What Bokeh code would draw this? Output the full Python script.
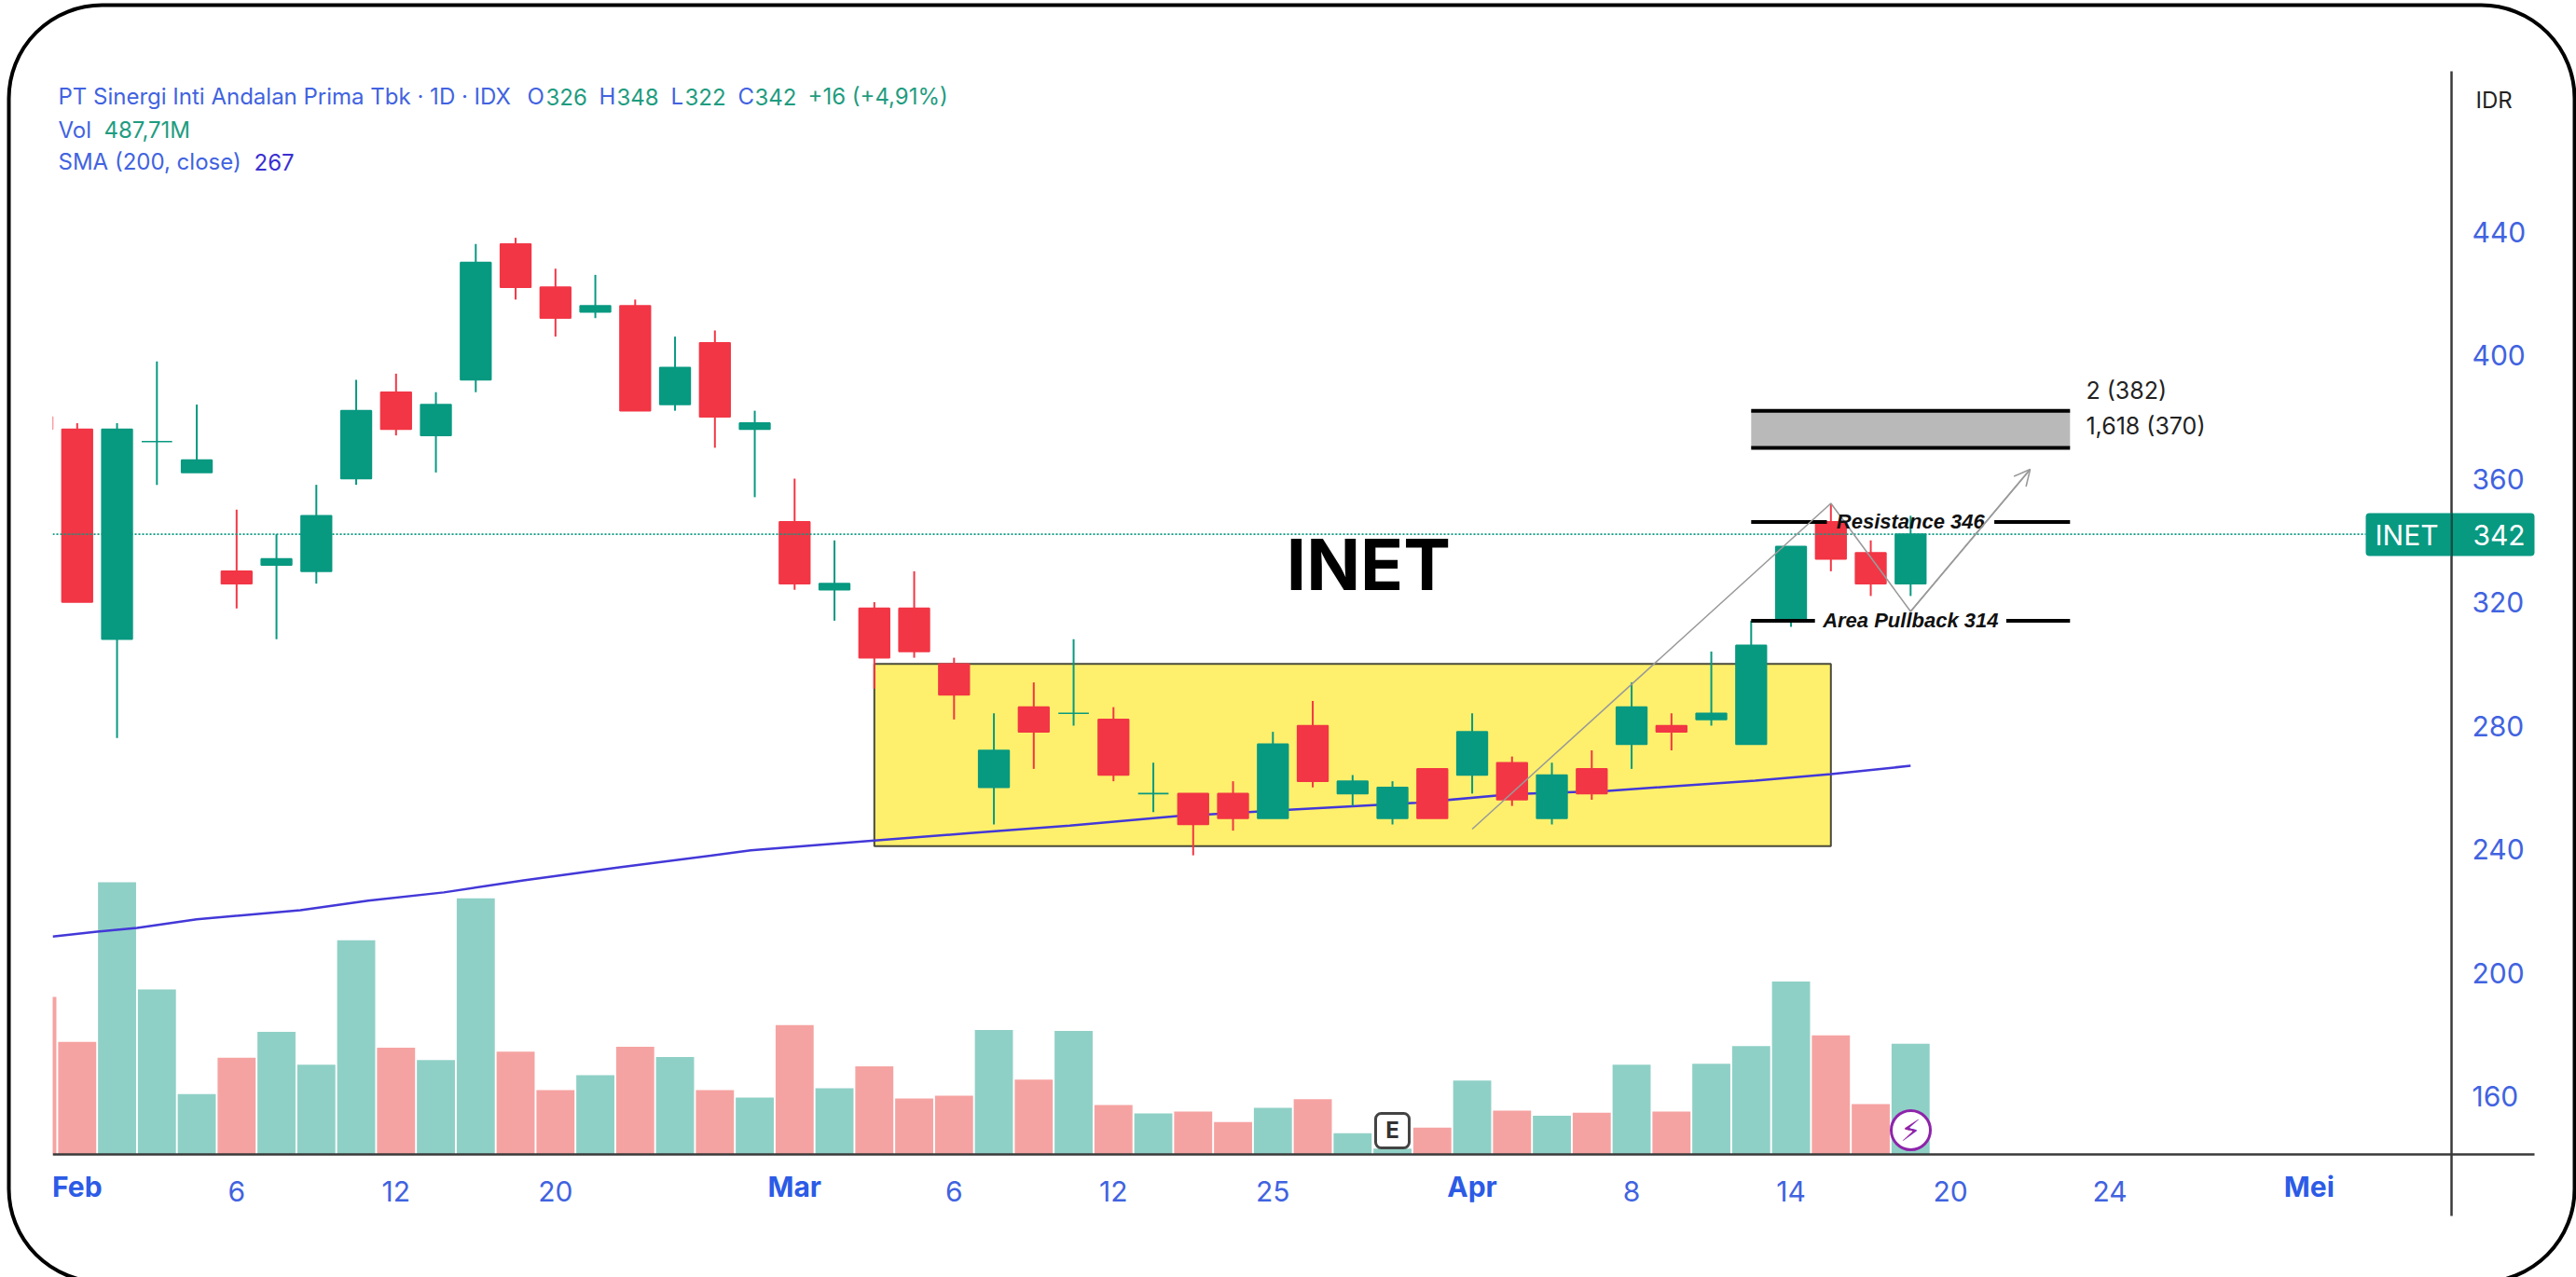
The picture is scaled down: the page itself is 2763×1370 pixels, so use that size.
from bokeh.plotting import figure
from bokeh.models import (Range1d, FixedTicker, Label, BoxAnnotation, Arrow, OpenHead, ColumnDataSource)
from bokeh.core.properties import value
from bokeh.embed import file_html
from bokeh.resources import INLINE

# ---------- data ----------
index = list(range(-1, 47))
opens = [380, 376, 308, 372, 362, 330, 332, 330, 360, 388, 374, 392, 436, 422, 414, 416, 384, 404, 376, 346, 324,
         318, 318, 300, 260, 286, 284, 282, 258, 258, 258, 250, 280, 258, 250, 266, 264, 268, 250, 266, 274, 280, 282, 274,
         314, 346, 336, 326]
highs = [382, 378, 378, 398, 384, 350, 342, 358, 392, 394, 388, 436, 438, 428, 426, 418, 406, 408, 382, 360, 340,
         320, 330, 302, 284, 294, 308, 286, 268, 258, 262, 278, 288, 264, 262, 266, 284, 270, 268, 272, 294, 284, 304, 314,
         338, 352, 340, 348]
lows = [376, 320, 276, 358, 362, 318, 308, 326, 358, 374, 362, 388, 418, 406, 412, 382, 382, 370, 354, 324, 314,
        292, 302, 282, 248, 266, 280, 262, 252, 238, 246, 250, 260, 254, 248, 250, 258, 254, 248, 256, 266, 272, 280, 274,
        312, 330, 322, 322]
closes = [376, 320, 376, 372, 366, 326, 334, 348, 382, 376, 384, 430, 422, 412, 416, 382, 396, 380, 378, 326, 326,
          302, 304, 290, 272, 278, 284, 264, 258, 248, 250, 274, 262, 262, 260, 250, 278, 256, 264, 258, 286, 278, 284, 306,
          338, 334, 326, 342]
volumes = [695, 496, 1200, 727, 266, 426, 540, 396, 944, 471, 416, 1129, 453, 284, 349, 475, 429, 284, 251, 570, 292,
           388, 247, 259, 549, 330, 545, 218, 181, 189, 143, 206, 244, 93, 26, 118, 326, 193, 171, 184, 396, 189, 400, 478,
           762, 525, 222, 488]
sma_index = [-0.615, 0.5, 1.5, 3, 5.6, 7.3, 9.2, 11.2, 13.6, 16.9, 19.1, 22.4, 24.9, 27.6, 30.5, 33.6, 36, 38.4, 42.1, 44, 46]
sma_value = [211.7, 213.3, 214.5, 217.3, 220.2, 223.3, 226, 229.9, 234.1, 239.6, 241.9, 245.2, 247.6, 250.7, 252.8,
             255, 257.8, 258.9, 262.2, 264.3, 267]
path_index = [35, 44, 46, 49]
path_price = [246.5, 352, 317, 363]
x_ticks = [0, 4, 8, 12, 18, 22, 26, 30, 35, 39, 43, 47, 51, 56]
x_tick_labels = ["Feb", "6", "12", "20", "Mar", "6", "12", "25", "Apr", "8", "14", "20", "24", "Mei"]
y_ticks = [160, 200, 240, 280, 320, 360, 400, 440]
month_labels = ["Feb", "Mar", "Apr", "Mei"]

GREEN, RED = "#089981", "#f23645"
VGREEN, VRED = "#8fd0c6", "#f5a3a2"
BLUE = "#4163e0"
FONT = "Inter"
W, H = 2763, 1370


def px_to_idx(x):
    return (x - 82.3) / 42.75


def px_to_price(y):
    return 440 - (y - 248) / 3.3125


up = [c >= o for o, c in zip(opens, closes)]
src = ColumnDataSource(dict(
    x=index, high=highs, low=lows,
    top=[max(o, c) for o, c in zip(opens, closes)],
    bottom=[min(o, c) for o, c in zip(opens, closes)],
    color=[GREEN if u else RED for u in up],
    vcolor=[VGREEN if u else VRED for u in up],
    vol=volumes,
))

vol_per_px = 4.11
p = figure(width=W, height=H, output_backend="svg", toolbar_location=None,
           x_range=Range1d(px_to_idx(0), px_to_idx(W)),
           y_range=Range1d(px_to_price(H), px_to_price(0)),
           y_axis_location="right", min_border=0, background_fill_color="white", outline_line_color=None)
p.grid.visible = False
p.extra_y_ranges = {"vol": Range1d((1238 - H) * vol_per_px, 1238 * vol_per_px)}

# axes
for ax in (p.xaxis[0], p.yaxis[0]):
    ax.major_tick_line_color = None
    ax.minor_tick_line_color = None
    ax.axis_line_color = "#3a3a3a"
    ax.axis_line_width = 2.5
    ax.major_label_text_color = BLUE
    ax.major_label_text_font = FONT
    ax.major_label_text_font_size = "30px"
p.xaxis[0].fixed_location = px_to_price(1238)
p.xaxis[0].bounds = (px_to_idx(56), px_to_idx(2718))
p.xaxis[0].ticker = FixedTicker(ticks=x_ticks)
p.xaxis[0].major_label_overrides = {t: ("" if l in month_labels else l) for t, l in zip(x_ticks, x_tick_labels)}
p.xaxis[0].major_label_standoff = 22
p.yaxis[0].fixed_location = px_to_idx(2629)
p.yaxis[0].bounds = (px_to_price(1304), px_to_price(76))
p.yaxis[0].ticker = FixedTicker(ticks=y_ticks)
p.yaxis[0].major_label_standoff = 16

# volume bars
p.vbar(x="x", top="vol", bottom=0, width=0.955, source=src, color="vcolor", line_width=0, y_range_name="vol")

# yellow consolidation box
p.quad(left=[20], right=[44], top=[300], bottom=[241], fill_color="#fef06c", line_color="#4a4a3a", line_width=2)

# SMA
p.line(sma_index, sma_value, line_color="#4338d8", line_width=2.5)

# candles
p.segment(x0="x", x1="x", y0="low", y1="high", source=src, color="color", line_width=2)
p.vbar(x="x", top="top", bottom="bottom", width=0.765, source=src, fill_color="color", line_color="color", line_width=1.6)

# last-price dotted line
p.line([px_to_idx(56), px_to_idx(2537)], [342, 342], line_color=GREEN, line_width=1.6, line_dash="2 2")

# target zone
p.quad(left=[42], right=[50], top=[382], bottom=[370], fill_color="#b9b9b9", line_color=None)
p.line([42, 50], [382, 382], line_color="black", line_width=4)
p.line([42, 50], [370, 370], line_color="black", line_width=4)
p.line([42, 43.9], [346, 346], line_color="black", line_width=4)
p.line([48.1, 50], [346, 346], line_color="black", line_width=4)
p.line([42, 43.6], [314, 314], line_color="black", line_width=4)
p.line([48.4, 50], [314, 314], line_color="black", line_width=4)

# grey path with arrow
p.line(path_index, path_price, line_color="#9a9a9a", line_width=1.6)
p.add_layout(Arrow(end=OpenHead(size=17, line_color="#9a9a9a", line_width=1.6),
                   x_start=path_index[-2], y_start=path_price[-2], x_end=path_index[-1], y_end=path_price[-1],
                   line_color="#9a9a9a", line_width=1.6))

# chart texts in data space
p.text([32.4], [332.5], text=["INET"], text_font=value(FONT), text_font_style="bold", text_font_size="76px",
       text_color="black", text_align="center", text_baseline="middle")
p.text([46], [346], text=["Resistance 346"], text_font=value("Liberation Sans"), text_font_style="bold italic",
       text_font_size="22px", text_color="#111111", text_align="center", text_baseline="middle")
p.text([46], [314], text=["Area Pullback 314"], text_font=value("Liberation Sans"), text_font_style="bold italic",
       text_font_size="22px", text_color="#111111", text_align="center", text_baseline="middle")
p.text([50.4], [388.5], text=["2 (382)"], text_font=value(FONT), text_font_size="25px", text_color="#222222",
       text_align="left", text_baseline="middle")
p.text([50.4], [377], text=["1,618 (370)"], text_font=value(FONT), text_font_size="25px", text_color="#222222",
       text_align="left", text_baseline="middle")


def canvas_text(x, y, text, color=BLUE, size=24, style="normal", align="left", font=FONT):
    p.add_layout(Label(x=x, y=y, x_units="canvas", y_units="canvas", text=text, text_color=color,
                       text_font=font, text_font_size=f"{size}px", text_font_style=style,
                       text_align=align, text_baseline="middle"))


def canvas_box(left, right, top, bottom, fill="#3a3a3a", alpha=1.0, line=None, lw=0, radius=0):
    p.add_layout(BoxAnnotation(left=left, right=right, top=top, bottom=bottom,
                               left_units="canvas", right_units="canvas", top_units="canvas", bottom_units="canvas",
                               fill_color=fill, fill_alpha=alpha, line_color=line, line_alpha=1.0, line_width=lw,
                               border_radius=radius, level="annotation"))


# mask the part of the chart left of the pane
canvas_box(12, 56, 300, 1242, fill="white")

# month labels are bold, the day numbers on the axis are not
for t, l in zip(x_ticks, x_tick_labels):
    if l in month_labels:
        p.add_layout(Label(x=t, y=1272, x_units="data", y_units="canvas", text=l, text_color="#2c5be6",
                           text_font=FONT, text_font_size="30px", text_font_style="bold",
                           text_align="center", text_baseline="middle"))

# legend rows
canvas_text(62, 103, "PT Sinergi Inti Andalan Prima Tbk · 1D · IDX")
GV = "#1f9c80"
for x, head, val, dx in [(565, "O", "326", 20), (642, "H", "348", 19), (719, "L", "322", 15), (791, "C", "342", 18)]:
    canvas_text(x, 103, head)
    canvas_text(x + dx, 103, val, color=GV)
canvas_text(866, 103, "+16 (+4,91%)", color=GV)
canvas_text(62, 139, "Vol")
canvas_text(111, 139, "487,71M", color=GV)
canvas_text(62, 173, "SMA (200, close)")
canvas_text(272, 173, "267", color="#3a2fd0")
canvas_text(2655, 107, "IDR", color="#222222", size=24)

# last-price tag
canvas_box(2537, 2718, 550, 596, fill=GREEN, radius=4)
canvas_box(2628, 2630.5, 550, 596, fill="#0a5247")
canvas_text(2581, 573, "INET", color="white", size=30, align="center")
canvas_text(2680, 573, "342", color="white", size=30, align="center")

# markers in the volume pane
canvas_box(1475, 1511, 1194, 1231, fill="white", line="#444444", lw=3, radius=6)
canvas_text(1493, 1212, "E", color="#333333", size=24, style="bold", align="center")
canvas_box(2028, 2070, 1191, 1233, fill="white", line="#8e24aa", lw=3, radius=21)
canvas_text(2049, 1212, "⚡", color="#8e24aa", size=32, align="center", font="DejaVu Sans")

# rounded picture frame
canvas_box(9, 2761, 5, 1375, alpha=0.0, line="black", lw=4, radius=100)

open("out.html", "w").write(file_html(p, INLINE))
